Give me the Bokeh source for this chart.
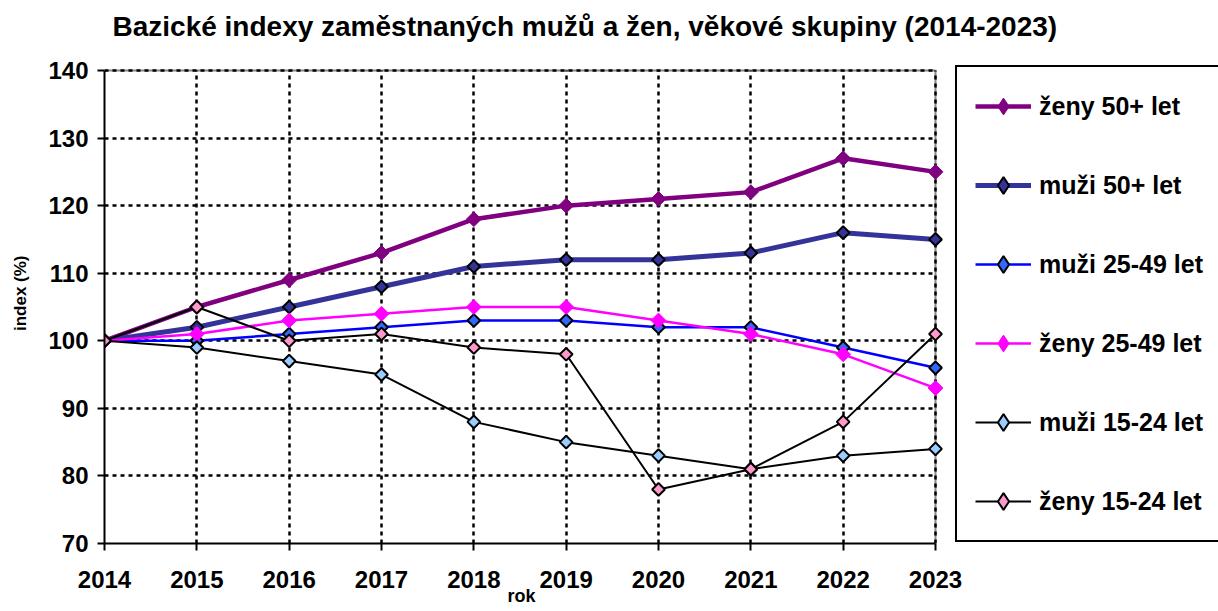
from bokeh.plotting import figure
from bokeh.models import Range1d, FixedTicker, Legend, LegendItem, ColumnDataSource, Label
from bokeh.embed import file_html
from bokeh.resources import INLINE
import math

years = [2014, 2015, 2016, 2017, 2018, 2019, 2020, 2021, 2022, 2023]
zeny_50 = [100, 105, 109, 113, 118, 120, 121, 122, 127, 125]
muzi_50 = [100, 102, 105, 108, 111, 112, 112, 113, 116, 115]
muzi_25_49 = [100, 100, 101, 102, 103, 103, 102, 102, 99, 96]
zeny_25_49 = [100, 101, 103, 104, 105, 105, 103, 101, 98, 93]
muzi_15_24 = [100, 99, 97, 95, 88, 85, 83, 81, 83, 84]
zeny_15_24 = [100, 105, 100, 101, 99, 98, 78, 81, 88, 101]
y_ticks = [70, 80, 90, 100, 110, 120, 130, 140]

series = [
    ("ženy 50+ let", zeny_50, "#800080", 4.5, "#800080", None),
    ("muži 50+ let", muzi_50, "#333399", 5, "#333399", "black"),
    ("muži 25-49 let", muzi_25_49, "#0000FF", 2.5, "#3366FF", "black"),
    ("ženy 25-49 let", zeny_25_49, "#FF00FF", 2.5, "#FF00FF", None),
    ("muži 15-24 let", muzi_15_24, "black", 2, "#99CCFF", "black"),
    ("ženy 15-24 let", zeny_15_24, "black", 2, "#FF99CC", "black"),
]

TITLE = "Bazické indexy zaměstnaných mužů a žen, věkové skupiny (2014-2023)"
FONT = "Liberation Sans"
NB = "\u00a0"

# ---- layout in pixels ----
W, H = 1218, 611
LEFT, BOTTOM_BORDER = 104, 68
X_LAST_PX = 935                  # pixel of the last year
Y_TOP_PX, Y_BOT_PX = 70, 543     # pixels of the top / bottom y value
frame_w = W - LEFT
ppx = (X_LAST_PX - LEFT) / (years[-1] - years[0])
ppy = (Y_BOT_PX - Y_TOP_PX) / (y_ticks[-1] - y_ticks[0])
x_end = years[0] + frame_w / ppx
y_end = y_ticks[0] + Y_BOT_PX / ppy

p = figure(width=W, height=H, output_backend="svg", toolbar_location=None,
           x_range=Range1d(years[0], x_end), y_range=Range1d(y_ticks[0], y_end),
           min_border_left=LEFT, min_border_right=0, min_border_top=0,
           min_border_bottom=BOTTOM_BORDER)
p.extra_y_ranges = {"legend_only": Range1d(1000, 2000)}

p.outline_line_color = None
p.background_fill_color = "white"
p.border_fill_color = "white"

for ax in (p.xaxis[0], p.yaxis[0]):
    ax.axis_line_color = "black"
    ax.axis_line_width = 2
    ax.major_tick_line_color = "black"
    ax.major_tick_line_width = 2
    ax.major_tick_out = 7
    ax.major_tick_in = 0
    ax.minor_tick_line_color = None
    ax.major_label_text_font = FONT
    ax.major_label_text_font_size = "24px"
    ax.major_label_text_font_style = "bold"
    ax.major_label_text_color = "black"
    ax.axis_label_text_font = FONT
    ax.axis_label_text_font_style = "bold"
    ax.axis_label_text_color = "black"

p.xaxis.ticker = FixedTicker(ticks=years)
p.yaxis.ticker = FixedTicker(ticks=y_ticks)
p.xaxis.bounds = (years[0], years[-1])
p.yaxis.bounds = (y_ticks[0], y_ticks[-1])
# labels are centred on the (wide) frame; non-breaking spaces shift them
p.xaxis.axis_label = "rok" + NB * 56
p.yaxis.axis_label = "index (%)" + NB * 9
p.xaxis.axis_label_text_font_size = "18px"
p.yaxis.axis_label_text_font_size = "17px"
p.xaxis.major_label_standoff = 20
p.yaxis.major_label_standoff = 9
p.xaxis.axis_label_standoff = -5
p.yaxis.axis_label_standoff = 15

for g in (p.xgrid[0], p.ygrid[0]):
    g.grid_line_color = "black"
    g.grid_line_width = 2.5
    g.grid_line_dash = "4 4"
try:
    p.ygrid[0].cross_bounds = (years[0], years[-1])
    p.xgrid[0].cross_bounds = (y_ticks[0], y_ticks[-1])
except Exception:
    pass

# plot-area border (top and right), grey
p.segment(x0=[years[0], years[-1]], y0=[y_ticks[-1], y_ticks[0]],
          x1=[years[-1], years[-1]], y1=[y_ticks[-1], y_ticks[-1]],
          line_color="#888888", line_width=2, level="image")

items = []
for name, vals, lcol, lw, fcol, ocol in series:
    src = ColumnDataSource(dict(x=years, y=vals))
    lr = p.line("x", "y", source=src, line_color=lcol, line_width=lw)
    olc = fcol if ocol is None else ocol
    olw = 1 if ocol is None else 2
    sz = 10.5 if ocol is None else 9
    p.scatter("x", "y", source=src, marker="square", size=sz, angle=math.pi / 4,
              fill_color=fcol, line_color=olc, line_width=olw)
    # same data on an off-screen range: only supplies the legend's diamond
    kr = p.scatter("x", "y", source=src, y_range_name="legend_only", marker="diamond",
                   size=17, fill_color=fcol, line_color=olc, line_width=olw)
    items.append(LegendItem(label=name, renderers=[lr, kr]))

legend = Legend(items=items, location=(851, 1), padding=18, spacing=37,
                glyph_width=56, glyph_height=42, label_height=42, label_standoff=8,
                label_width=220,
                label_text_font=FONT, label_text_font_size="25px", label_text_font_style="bold",
                label_text_color="black",
                border_line_color="black", border_line_width=2, border_line_alpha=1,
                background_fill_color="white", background_fill_alpha=1, margin=0)
p.add_layout(legend, "center")

title = Label(x=8, y=Y_BOT_PX - 26, x_units="screen", y_units="screen", text=TITLE,
              text_font=FONT, text_font_size="28px", text_font_style="bold",
              text_color="black", text_align="left", text_baseline="alphabetic")
p.add_layout(title)

open("out.html", "w").write(file_html(p, INLINE))
